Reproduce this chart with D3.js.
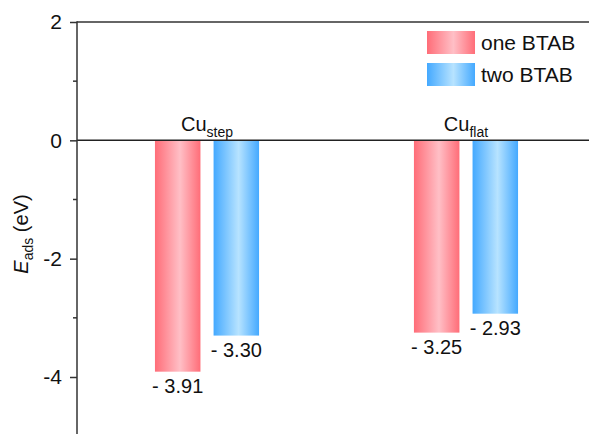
<!DOCTYPE html>
<html>
<head>
<meta charset="utf-8">
<script src="https://cdn.jsdelivr.net/npm/d3@7/dist/d3.min.js"></script>
<style>
  html, body { margin: 0; padding: 0; background: #fff; }
  svg { display: block; font-family: "Liberation Sans", Arial, sans-serif; }
</style>
</head>
<body>
<svg id="chart" width="589" height="434"></svg>
<script>
// Adsorption energies of BTAB on two copper sites
const sites = ["step", "flat"];
const seriesNames = ["one BTAB", "two BTAB"];
const oneBTAB = [-3.91, -3.25];
const twoBTAB = [-3.30, -2.93];
const yTicks = [2, 0, -2, -4];
const yMinorTicks = [1, -1, -3];

const svg = d3.select("#chart");
const W = 589, H = 434;
const x0 = 77, yTop = 22;

const y = d3.scaleLinear().domain([2, -4]).range([yTop, 377]);
const xSite = d3.scaleBand().domain(sites).range([x0, 596]).paddingInner(0.598).paddingOuter(0.301);
const xSeries = d3.scaleBand().domain(seriesNames).range([0, xSite.bandwidth()]).paddingInner(0.224);

// gradients: darker edges, light centre
const defs = svg.append("defs");
const grads = [
  { id: "gRed", edge: "#ff6d78", mid: "#ffbfc6" },
  { id: "gBlue", edge: "#44a9ff", mid: "#b7e3ff" }
];
grads.forEach(g => {
  const lg = defs.append("linearGradient").attr("id", g.id).attr("x1", "0").attr("x2", "1").attr("y1", "0").attr("y2", "0");
  lg.append("stop").attr("offset", "0%").attr("stop-color", g.edge);
  lg.append("stop").attr("offset", "55%").attr("stop-color", g.mid);
  lg.append("stop").attr("offset", "100%").attr("stop-color", g.edge);
});
const fills = ["url(#gRed)", "url(#gBlue)"];

// bars with value labels beneath
const seriesData = [oneBTAB, twoBTAB];
seriesData.forEach((vals, si) => {
  const rows = sites.map((s, i) => ({ site: s, v: vals[i] }));
  const g = svg.append("g");
  g.selectAll("rect").data(rows).join("rect")
    .attr("x", d => xSite(d.site) + xSeries(seriesNames[si]))
    .attr("y", y(0))
    .attr("width", xSeries.bandwidth())
    .attr("height", d => y(d.v) - y(0))
    .attr("fill", fills[si]);
  g.selectAll("text").data(rows).join("text")
    .attr("x", d => xSite(d.site) + xSeries(seriesNames[si]) + xSeries.bandwidth() / 2)
    .attr("y", d => y(d.v) + 21)
    .attr("text-anchor", "middle")
    .attr("font-size", 20)
    .attr("fill", "#111")
    .text(d => "- " + Math.abs(d.v).toFixed(2));
});

// site labels above the zero line
const siteLbl = svg.append("g").selectAll("text").data(sites).join("text")
  .attr("x", d => xSite(d) + xSite.bandwidth() / 2)
  .attr("y", y(0) - 9)
  .attr("text-anchor", "middle")
  .attr("font-size", 20)
  .attr("fill", "#111");
siteLbl.append("tspan").text("Cu");
siteLbl.append("tspan").attr("font-size", 14).attr("dy", 6).text(d => d);

// top frame line and zero line
svg.append("line").attr("x1", x0).attr("x2", W).attr("y1", y(2)).attr("y2", y(2))
  .attr("stroke", "#333").attr("stroke-width", 1.5);
svg.append("line").attr("x1", x0).attr("x2", W).attr("y1", y(0)).attr("y2", y(0))
  .attr("stroke", "#222").attr("stroke-width", 1.5);

// y axis
const axis = svg.append("g").attr("transform", `translate(${x0},0)`)
  .call(d3.axisLeft(y).tickValues(yTicks).tickSize(7).tickPadding(8).tickFormat(d => String(d)));
axis.select(".domain").remove();
axis.selectAll(".tick line").attr("stroke", "#333").attr("stroke-width", 1.5);
axis.selectAll(".tick text").attr("font-size", 21).attr("fill", "#111")
  .attr("font-family", "'Liberation Sans', Arial, sans-serif");
svg.append("line").attr("x1", x0).attr("x2", x0).attr("y1", yTop - 0.75).attr("y2", H)
  .attr("stroke", "#333").attr("stroke-width", 1.5);
svg.append("g").selectAll("line").data(yMinorTicks).join("line")
  .attr("x1", x0 - 4).attr("x2", x0).attr("y1", d => y(d)).attr("y2", d => y(d))
  .attr("stroke", "#333").attr("stroke-width", 1.5);

// y axis title
const yt = svg.append("text")
  .attr("transform", "translate(28,234) rotate(-90)")
  .attr("text-anchor", "middle")
  .attr("font-size", 20)
  .attr("fill", "#111");
yt.append("tspan").attr("font-style", "italic").text("E");
yt.append("tspan").attr("font-size", 14).attr("dy", 5).text("ads");
yt.append("tspan").attr("dy", -5).text(" (eV)");

// legend
const legend = svg.append("g").attr("transform", "translate(427,31)");
seriesNames.forEach((name, i) => {
  legend.append("rect").attr("x", 0).attr("y", i * 32).attr("width", 48).attr("height", 23).attr("fill", fills[i]);
  legend.append("text").attr("x", 54).attr("y", i * 32 + 19).attr("font-size", 21).attr("fill", "#111").text(name);
});
</script>
</body>
</html>
